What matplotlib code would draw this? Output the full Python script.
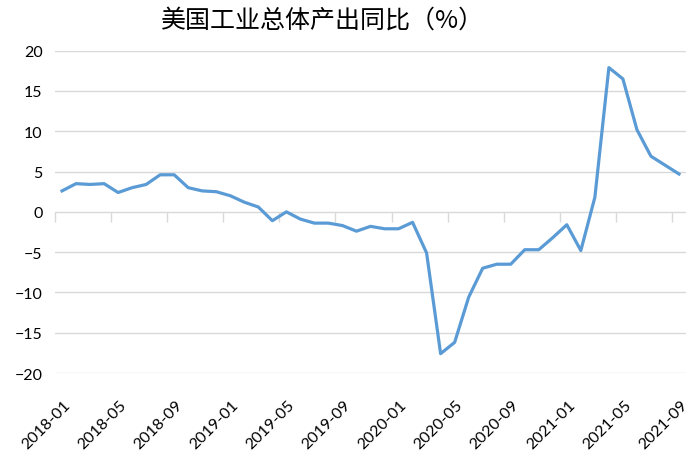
import numpy as np
import matplotlib.pyplot as plt
import matplotlib.transforms as mtransforms

plt.rcParams['font.family'] = ['Lato', 'DejaVu Sans']

# ---------------- Data ----------------
months = [f"{y}-{m:02d}" for y in (2018, 2019, 2020, 2021) for m in range(1, 13)][:45]
values = [2.6, 3.5, 3.4, 3.5, 2.4, 3.0, 3.4, 4.6, 4.6, 3.0, 2.6, 2.5,
          2.0, 1.2, 0.6, -1.1, 0.0, -0.9, -1.4, -1.4, -1.7, -2.4, -1.8, -2.1,
          -2.1, -1.3, -5.1, -17.6, -16.2, -10.6, -7.0, -6.5, -6.5, -4.7, -4.7, -3.2,
          -1.6, -4.8, 1.8, 17.9, 16.5, 10.2, 6.9, 5.8, 4.7]
yticks = [-20, -15, -10, -5, 0, 5, 10, 15, 20]

x = np.arange(len(months))

fig = plt.figure(figsize=(6.97, 4.64), dpi=100)
ax = fig.add_axes([55/697, 1 - 374/464, 631/697, (374 - 51.7)/464])

ax.plot(x, values, color='#5B9BD5', linewidth=2.3, solid_joinstyle='round', zorder=3)

# ---------------- Axes ----------------
ax.set_xlim(-0.5, len(months) - 0.5)
ax.set_ylim(-20, 20)
ax.set_yticks(yticks)
ax.yaxis.grid(True, color='#D9D9D9', linewidth=1)
ax.set_axisbelow(True)
for s in ax.spines.values():
    s.set_visible(False)
ax.tick_params(axis='y', length=0, pad=9, labelsize=11.5)

lbl_idx = x[::4]
ax.set_xticks(lbl_idx)
ax.set_xticklabels([months[i] for i in lbl_idx], rotation=45, ha='right',
                   va='center', rotation_mode='anchor', fontsize=11.5)
ax.tick_params(axis='x', length=0, pad=21)
shift = mtransforms.ScaledTranslation(6/100, 0, fig.dpi_scale_trans)
for lab in ax.get_xticklabels():
    lab.set_transform(lab.get_transform() + shift)

# category axis crossing at zero, tick marks between categories
sec = ax.secondary_xaxis(0.5)
sec.spines['bottom'].set_visible(False)
sec.spines['top'].set_visible(False)
sec.xaxis.set_ticks_position('bottom')
sec.set_xticks(np.arange(-0.5, len(months) - 1, 4))
sec.set_xticklabels([])
sec.tick_params(axis='x', direction='out', length=7, color='#D9D9D9', width=1,
                labelbottom=False, labeltop=False)

fig.text(323/697, 1 - 21/464, "美国工业总体产出同比（%）", ha='center', va='center',
         fontsize=18, family=['Noto Sans CJK SC', 'DejaVu Sans'])

fig.savefig("out.png", dpi=100)
